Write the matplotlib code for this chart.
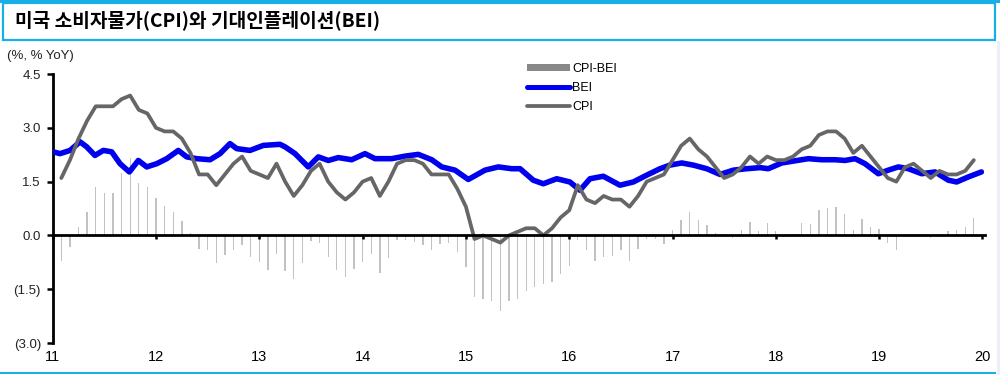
"""
US CPI vs breakeven inflation (BEI) chart.
"""

import matplotlib.pyplot as plt
import numpy as np
from matplotlib.patches import Patch, Rectangle
from matplotlib.lines import Line2D

# --- data -------------------------------------------------------------
# monthly CPI YoY, Jan 2011 .. Nov 2019
cpi = [1.6, 2.1, 2.7, 3.2, 3.6, 3.6, 3.6, 3.8, 3.9, 3.5, 3.4, 3.0,
       2.9, 2.9, 2.7, 2.3, 1.7, 1.7, 1.4, 1.7, 2.0, 2.2, 1.8, 1.7,
       1.6, 2.0, 1.5, 1.1, 1.4, 1.8, 2.0, 1.5, 1.2, 1.0, 1.2, 1.5,
       1.6, 1.1, 1.5, 2.0, 2.1, 2.1, 2.0, 1.7, 1.7, 1.7, 1.3, 0.8,
       -0.1, 0.0, -0.1, -0.2, 0.0, 0.1, 0.2, 0.2, 0.0, 0.2, 0.5, 0.7,
       1.4, 1.0, 0.9, 1.1, 1.0, 1.0, 0.8, 1.1, 1.5, 1.6, 1.7, 2.1,
       2.5, 2.7, 2.4, 2.2, 1.9, 1.6, 1.7, 1.9, 2.2, 2.0, 2.2, 2.1,
       2.1, 2.2, 2.4, 2.5, 2.8, 2.9, 2.9, 2.7, 2.3, 2.5, 2.2, 1.9,
       1.6, 1.5, 1.9, 2.0, 1.8, 1.6, 1.8, 1.7, 1.7, 1.8, 2.1]

# monthly CPI-BEI gap, same months
gap = [-0.70, -0.31, 0.23, 0.65, 1.35, 1.18, 1.18, 1.75, 2.15, 1.45, 1.35, 1.05,
       0.81, 0.65, 0.39, 0.07, -0.37, -0.42, -0.77, -0.54, -0.42, -0.28, -0.61, -0.75,
       -0.96, -0.51, -0.98, -1.21, -0.77, -0.16, -0.21, -0.61, -0.96, -1.15, -0.93, -0.75,
       -0.51, -1.05, -0.62, -0.14, -0.14, -0.19, -0.28, -0.42, -0.23, -0.22, -0.47, -0.89,
       -1.72, -1.77, -1.82, -2.12, -1.82, -1.77, -1.54, -1.44, -1.35, -1.30, -1.07, -0.84,
       -0.12, -0.42, -0.70, -0.61, -0.56, -0.42, -0.70, -0.37, -0.09, -0.09, -0.25, 0.14,
       0.44, 0.65, 0.44, 0.28, 0.07, -0.05, -0.07, 0.14, 0.37, 0.11, 0.34, 0.12,
       0.05, 0.05, 0.34, 0.33, 0.70, 0.77, 0.78, 0.61, 0.14, 0.47, 0.23, 0.18,
       -0.20, -0.41, 0.02, 0.03, 0.03, -0.08, 0.03, 0.12, 0.16, 0.24, 0.49]

# BEI (10y breakeven), sampled from the daily line, decimal years
bei_t = [2011.006, 2011.071, 2011.168, 2011.264, 2011.329, 2011.409, 2011.490, 2011.571,
         2011.652, 2011.742, 2011.829, 2011.910,
         2012.007, 2012.104, 2012.216, 2012.297, 2012.394, 2012.523, 2012.620, 2012.716,
         2012.781, 2012.910,
         2013.039, 2013.200, 2013.249, 2013.346, 2013.474, 2013.571, 2013.668, 2013.765,
         2013.894,
         2014.023, 2014.120, 2014.282, 2014.410, 2014.539, 2014.669, 2014.766, 2014.894,
         2015.023, 2015.185, 2015.314, 2015.443, 2015.524, 2015.652, 2015.749, 2015.879,
         2016.007, 2016.104, 2016.201, 2016.330, 2016.491, 2016.620, 2016.750, 2016.879,
         2016.975,
         2017.089, 2017.201, 2017.331, 2017.460, 2017.589, 2017.718, 2017.847, 2017.927,
         2018.057, 2018.186, 2018.315, 2018.444, 2018.573, 2018.670, 2018.767, 2018.863,
         2018.992,
         2019.089, 2019.186, 2019.283, 2019.412, 2019.541, 2019.670, 2019.750, 2019.863,
         2019.990]
bei_v = [2.33, 2.28, 2.37, 2.61, 2.47, 2.23, 2.37, 2.33, 2.00, 1.77, 2.09, 1.91,
         2.00, 2.14, 2.37, 2.19, 2.14, 2.11, 2.28, 2.56, 2.42, 2.37,
         2.51, 2.54, 2.47, 2.28, 1.91, 2.19, 2.09, 2.17, 2.11,
         2.28, 2.14, 2.14, 2.21, 2.26, 2.11, 1.91, 1.82,
         1.56, 1.82, 1.91, 1.86, 1.86, 1.54, 1.44, 1.58,
         1.49, 1.26, 1.58, 1.65, 1.40, 1.49, 1.68, 1.86, 1.96,
         2.02, 1.96, 1.86, 1.70, 1.82, 1.86, 1.89, 1.86,
         2.02, 2.08, 2.14, 2.11, 2.11, 2.09, 2.14, 2.00, 1.72,
         1.82, 1.91, 1.86, 1.72, 1.77, 1.54, 1.49, 1.63, 1.77]

years = [2011, 2012, 2013, 2014, 2015, 2016, 2017, 2018, 2019, 2020]
year_labels = ['11', '12', '13', '14', '15', '16', '17', '18', '19', '20']
y_ticks = [-3.0, -1.5, 0.0, 1.5, 3.0, 4.5]
y_labels = ['(3.0)', '(1.5)', '0.0', '1.5', '3.0', '4.5']

title = '미국 소비자물가(CPI)와 기대인플레이션(BEI)'

# month-end positions for the monthly series
month_t = 2011 + np.arange(1, len(cpi) + 1) / 12

plt.rcParams['font.family'] = ['Liberation Sans', 'DejaVu Sans']
BLUE_FRAME = '#1aaee6'

fig = plt.figure(figsize=(10, 3.75), dpi=100)

# frame: title box, bottom rule, light strip on the right
fig.patches.append(Rectangle((0.003, 0.893), 0.992, 0.100, transform=fig.transFigure,
                             fill=False, edgecolor=BLUE_FRAME, lw=1.6))
fig.patches.append(Rectangle((0.0, 0.992), 1.0, 0.008, transform=fig.transFigure,
                             color=BLUE_FRAME, lw=0))
fig.patches.append(Rectangle((0.0, 0.003), 0.996, 0.005, transform=fig.transFigure,
                             color=BLUE_FRAME, lw=0))
fig.patches.append(Rectangle((0.997, 0.0), 0.003, 0.89, transform=fig.transFigure,
                             color='#eceffa', lw=0))

fig.text(0.015, 1 - 20 / 375, title, fontsize=13.8, fontweight='bold',
         family=['Noto Sans CJK KR', 'DejaVu Sans'], va='center', ha='left')
fig.text(0.007, 1 - 56.5 / 375, '(%, % YoY)', fontsize=9.5, va='center', ha='left',
         color='#222222')

ax = fig.add_axes([0.0527, 0.0853, 0.9318, 0.7173])

# Plot series
ax.bar(month_t, gap, width=0.013, color='#c2c2c2', zorder=1)
ax.plot(bei_t, bei_v, color='#0000ee', lw=4.0, solid_joinstyle='round',
        solid_capstyle='round', zorder=3)
ax.plot(month_t, cpi, color='#666666', lw=2.7, solid_joinstyle='round',
        solid_capstyle='round', zorder=4)

ax.set_xlim(2011, 2020.02)
ax.set_ylim(-3.0, 4.5)

# axes styling
for side in ('top', 'right'):
    ax.spines[side].set_visible(False)
ax.spines['left'].set_linewidth(2)
ax.spines['bottom'].set_linewidth(2)
ax.spines['bottom'].set_position(('data', 0))
ax.spines['bottom'].set_zorder(5)

ax.set_yticks(y_ticks, labels=y_labels)
ax.tick_params(axis='y', direction='out', length=4.5, width=1.8, pad=4,
               labelsize=9.5, labelcolor='#222222')
ax.set_xticks(years)
ax.tick_params(axis='x', direction='out', length=3, width=1.8, labelbottom=False)

sec = ax.secondary_xaxis('bottom')
sec.set_xticks(years, labels=year_labels)
sec.tick_params(length=0, pad=5, labelsize=10.5)
sec.spines['bottom'].set_visible(False)

# legend
handles = [Patch(facecolor='#888888', edgecolor='none'),
           Line2D([], [], color='#0000ee', lw=3.6, solid_capstyle='round'),
           Line2D([], [], color='#666666', lw=2.7, solid_capstyle='round')]
ax.legend(handles, ['CPI-BEI', 'BEI', 'CPI'], loc='upper left',
          bbox_to_anchor=(0.527, 1 - 63 / 375), bbox_transform=fig.transFigure,
          frameon=False, fontsize=9, handlelength=3.4, handleheight=0.5,
          handletextpad=0.2, labelspacing=0.55, borderpad=0, borderaxespad=0)

fig.savefig('out.png', dpi=100)
